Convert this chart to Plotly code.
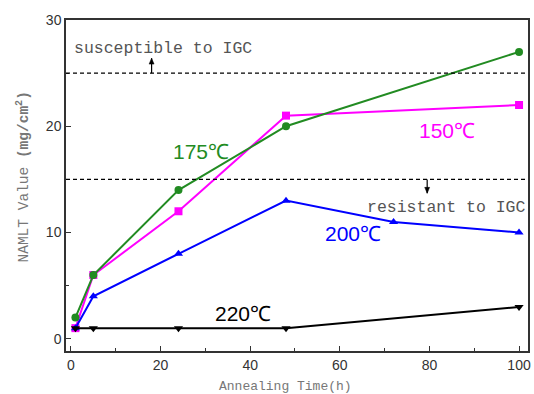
import plotly.graph_objects as go

t150_x = [1, 5, 24, 48, 100]
t150_y = [1, 6, 12, 21, 22]
t175_x = [1, 5, 24, 48, 100]
t175_y = [2, 6, 14, 20, 27]
t200_x = [1, 5, 24, 48, 72, 100]
t200_y = [1, 4, 8, 13, 11, 10]
t220_x = [1, 5, 24, 48, 100]
t220_y = [1, 1, 1, 1, 3]

susceptible_level = 25
resistant_level = 15

fig = go.Figure()
series = [
    (t150_x, t150_y, "#ff00ff", "square", "150℃"),
    (t200_x, t200_y, "#0000ff", "triangle-up", "200℃"),
    (t175_x, t175_y, "#228b22", "circle", "175℃"),
    (t220_x, t220_y, "#000000", "triangle-down", "220℃"),
]
for xs, ys, c, sym, name in series:
    fig.add_trace(go.Scatter(x=xs, y=ys, mode="lines+markers", name=name,
                             line=dict(color=c, width=2),
                             marker=dict(color=c, symbol=sym, size=8)))

for lvl in [susceptible_level, resistant_level]:
    fig.add_shape(type="line", xref="x", yref="y", x0=-1.1, x1=102, y0=lvl, y1=lvl,
                  line=dict(color="black", width=1.2, dash="4px,3px"))

# arrows (shaft + head)
def arrow(x, y0, y1):
    fig.add_shape(type="line", xref="x", yref="y", x0=x, x1=x, y0=y0, y1=y1,
                  line=dict(color="black", width=1.2))
    d = 0.55 if y1 > y0 else -0.55
    fig.add_shape(type="path", xref="x", yref="y",
                  path=f"M {x-0.55},{y1-d} L {x+0.55},{y1-d} L {x},{y1} Z",
                  fillcolor="black", line=dict(color="black", width=0.5))

arrow(18, susceptible_level, susceptible_level + 1.4)
arrow(79.5, resistant_level, resistant_level - 1.3)

mono = "Liberation Mono, DejaVu Sans Mono, monospace"
fig.add_annotation(x=0.3, y=27.3, xref="x", yref="y", text="susceptible to IGC", showarrow=False,
                   xanchor="left", font=dict(family=mono, size=16.5, color="#555555"))
fig.add_annotation(x=1.0, y=12.4, xref="paper", yref="y", text="resistant to IGC", showarrow=False,
                   xanchor="right", font=dict(family=mono, size=16.5, color="#555555"))

lab = "Liberation Sans, Arial, sans-serif"
fig.add_annotation(x=29, y=17.6, text="175℃", showarrow=False, font=dict(family=lab, size=21, color="#228b22"))
fig.add_annotation(x=84, y=19.6, text="150℃", showarrow=False, font=dict(family=lab, size=21, color="#ff00ff"))
fig.add_annotation(x=63, y=9.9, text="200℃", showarrow=False, font=dict(family=lab, size=21, color="#0000ff"))
fig.add_annotation(x=38.5, y=2.4, text="220℃", showarrow=False, font=dict(family=lab, size=21, color="#000000"))

fig.update_layout(
    width=534, height=394,
    margin=dict(l=66, r=6, t=20, b=43),
    plot_bgcolor="white", paper_bgcolor="white",
    showlegend=False,
    font=dict(family=lab, size=14, color="#333333"),
)
fig.update_xaxes(range=[-1.1, 102], tickvals=[0, 20, 40, 60, 80, 100], ticks="inside", ticklen=5,
                 minor=dict(tickvals=[10, 30, 50, 70, 90], ticks="inside", ticklen=3, tickcolor="#333"),
                 showgrid=False, zeroline=False, showline=True, linecolor="#333", linewidth=1.5, mirror=True,
                 tickcolor="#333", automargin=False,
                 title=dict(text="Annealing Time(h)<span style='color:white'>___</span>",
                            font=dict(family=mono, size=13, color="#777777"), standoff=12))
fig.update_yaxes(range=[-1.15, 30], tickvals=[0, 10, 20, 30], ticks="inside", ticklen=5,
                 minor=dict(tickvals=[5, 15, 25], ticks="inside", ticklen=3, tickcolor="#333"),
                 showgrid=False, zeroline=False, showline=True, linecolor="#333", linewidth=1.5, mirror=True,
                 tickcolor="#333", automargin=False,
                 title=dict(text="<span style='color:white'>__</span>NAMLT Value <b>(mg/cm<sup>2</sup>)</b>",
                            font=dict(family=mono, size=14.5, color="#777777"), standoff=14))

fig.write_html("out.html")
